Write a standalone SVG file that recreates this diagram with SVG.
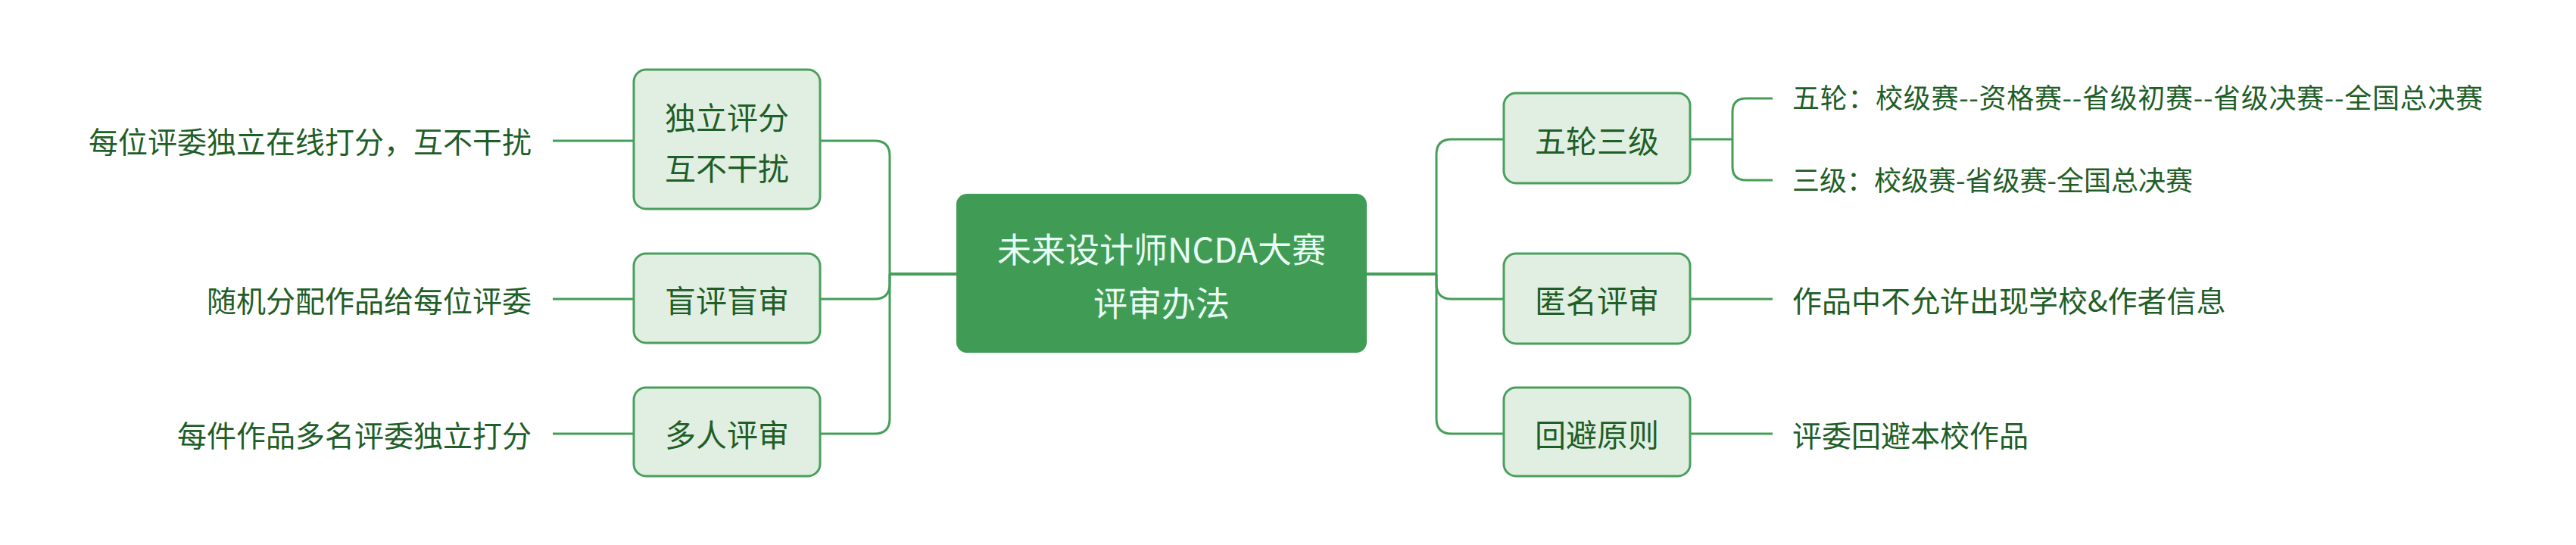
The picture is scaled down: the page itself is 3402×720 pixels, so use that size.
<svg xmlns="http://www.w3.org/2000/svg" width="3402" height="720" viewBox="0 0 3402 720">
<style>
.bg{fill:#ffffff}
.conn path{fill:none;stroke:#459e58;stroke-width:3;stroke-linecap:butt}
.conn path.main{stroke-width:4}
.root rect{fill:#409c55}
.root text{fill:#eafff6;font-size:45px}
.node rect{fill:#e1efe2;stroke:#4a9f5d;stroke-width:3}
.node text{fill:#1f5e27;font-size:41px}
.leaf text{fill:#1f5e27;font-size:39px}
.leaf text.small{font-size:36px}
text{font-family:"Noto Sans CJK SC","Noto Sans",sans-serif;dominant-baseline:central}
</style>
<rect class="bg" x="0" y="0" width="3402" height="720"/>
<g id="connectors" class="conn">
<path class="main" d="M1263,362 H1175"/>
<path d="M1175,362 V206 Q1175,186 1155,186 H1083"/>
<path d="M1175,362 V375 Q1175,395 1155,395 H1083"/>
<path d="M1175,362 V553 Q1175,573 1155,573 H1083"/>
<path class="main" d="M1805,362 H1897"/>
<path d="M1897,362 V204 Q1897,184 1917,184 H1986"/>
<path d="M1897,362 V375 Q1897,395 1917,395 H1986"/>
<path d="M1897,362 V553 Q1897,573 1917,573 H1986"/>
<path d="M837,186 H730"/>
<path d="M837,395 H730"/>
<path d="M837,573 H730"/>
<path d="M2232,184 H2288"/>
<path d="M2288,184 V148 Q2288,130 2306,130 H2341"/>
<path d="M2288,184 V220 Q2288,238 2306,238 H2341"/>
<path d="M2232,395 H2341"/>
<path d="M2232,573 H2341"/>
</g>
<g id="root" class="root">
<rect x="1263" y="256" width="542" height="210" rx="14"/>
<text x="1534" y="327" text-anchor="middle">未来设计师NCDA大赛</text>
<text x="1534" y="398" text-anchor="middle">评审办法</text>
</g>
<g id="node-duli" class="node">
<rect x="837" y="92" width="246" height="184" rx="16"/>
<text x="960" y="153" text-anchor="middle">独立评分</text>
<text x="960" y="220" text-anchor="middle">互不干扰</text>
</g>
<g id="node-mangping" class="node">
<rect x="837" y="335" width="246" height="118" rx="16"/>
<text x="960" y="395" text-anchor="middle">盲评盲审</text>
</g>
<g id="node-duoren" class="node">
<rect x="837" y="512" width="246" height="117" rx="16"/>
<text x="960" y="572" text-anchor="middle">多人评审</text>
</g>
<g id="node-wulun" class="node">
<rect x="1986" y="123" width="246" height="119" rx="16"/>
<text x="2109" y="184" text-anchor="middle">五轮三级</text>
</g>
<g id="node-niming" class="node">
<rect x="1986" y="335" width="246" height="119" rx="16"/>
<text x="2109" y="395" text-anchor="middle">匿名评审</text>
</g>
<g id="node-huibi" class="node">
<rect x="1986" y="512" width="246" height="117" rx="16"/>
<text x="2109" y="572" text-anchor="middle">回避原则</text>
</g>
<g id="leaf-duli" class="leaf"><text x="702" y="185" text-anchor="end">每位评委独立在线打分，互不干扰</text></g>
<g id="leaf-mangping" class="leaf"><text x="702" y="395" text-anchor="end">随机分配作品给每位评委</text></g>
<g id="leaf-duoren" class="leaf"><text x="702" y="573" text-anchor="end">每件作品多名评委独立打分</text></g>
<g id="leaf-wulun" class="leaf"><text class="small" x="2367" y="127" textLength="912" lengthAdjust="spacing">五轮：校级赛--资格赛--省级初赛--省级决赛--全国总决赛</text></g>
<g id="leaf-sanji" class="leaf"><text class="small" x="2367" y="236">三级：校级赛-省级赛-全国总决赛</text></g>
<g id="leaf-niming" class="leaf"><text x="2367" y="395">作品中不允许出现学校&amp;作者信息</text></g>
<g id="leaf-huibi" class="leaf"><text x="2367" y="573">评委回避本校作品</text></g>
</svg>
